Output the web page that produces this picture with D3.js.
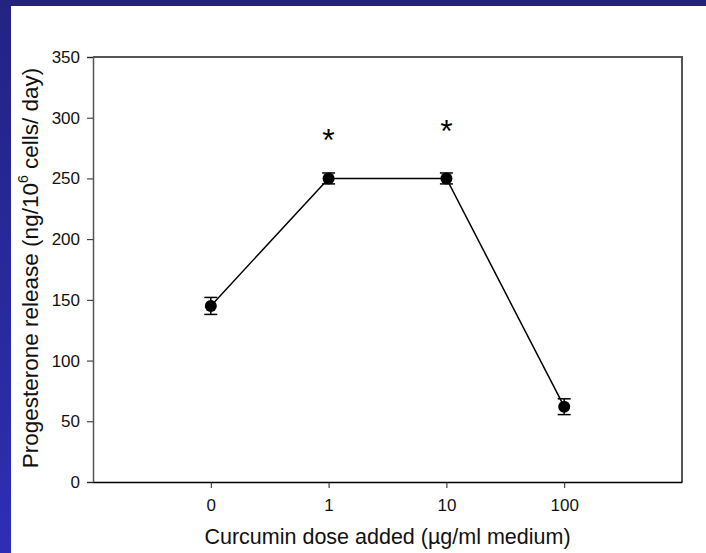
<!DOCTYPE html>
<html>
<head>
<meta charset="utf-8">
<script src="https://d3js.org/d3.v7.min.js"></script>
<style>
  body { margin: 0; background: #fff; }
  svg { display: block; font-family: Arial, "Liberation Sans", sans-serif; }
</style>
</head>
<body>
<div id="chart"></div>
<script>
const doses = ["0", "1", "10", "100"];
const release = [145, 250, 250, 62];
const errors = [7, 4.5, 4.5, 6.5];
const starred = [false, true, true, false];
const yTicks = [0, 50, 100, 150, 200, 250, 300, 350];

const width = 706, height = 553;
const margin = {top: 57, right: 24, bottom: 71, left: 93};

const svg = d3.select("#chart").append("svg")
    .attr("width", width)
    .attr("height", height);

// slide background: blue strips on top and left
const grad = svg.append("defs").append("linearGradient")
    .attr("id", "side").attr("x1", 0).attr("x2", 0).attr("y1", 0).attr("y2", 1);
grad.append("stop").attr("offset", 0).attr("stop-color", "#232382");
grad.append("stop").attr("offset", 1).attr("stop-color", "#2e2eb4");
svg.append("rect").attr("width", width).attr("height", 6).attr("fill", "#23237f");
svg.append("rect").attr("width", 11).attr("height", height).attr("fill", "url(#side)");

const x = d3.scalePoint()
    .domain(doses)
    .range([margin.left, width - margin.right])
    .padding(1);

const y = d3.scaleLinear()
    .domain([0, 350])
    .range([height - margin.bottom, margin.top]);

const data = doses.map((d, i) => ({dose: d, v: release[i], e: errors[i], star: starred[i]}));

// frame top and right
svg.append("path")
    .attr("d", `M${margin.left},${margin.top}H${width - margin.right}V${height - margin.bottom}`)
    .attr("fill", "none").attr("stroke", "#555").attr("stroke-width", 2);

// y axis
svg.append("g")
    .attr("transform", `translate(${margin.left},0)`)
    .call(d3.axisLeft(y).tickValues(yTicks).tickSize(6).tickPadding(7))
    .call(g => g.select(".domain").attr("stroke", "#555").attr("stroke-width", 1.5))
    .call(g => g.selectAll(".tick line").attr("stroke", "#222"))
    .call(g => g.selectAll("text").style("font-size", "17px").attr("fill", "#111"));

// x axis
svg.append("g")
    .attr("transform", `translate(0,${height - margin.bottom})`)
    .call(d3.axisBottom(x).tickSize(6).tickPadding(11).tickSizeOuter(0))
    .call(g => g.select(".domain").attr("stroke", "#000").attr("stroke-width", 1.5))
    .call(g => g.selectAll(".tick line").attr("stroke", "#222"))
    .call(g => g.selectAll("text").style("font-size", "17px").attr("fill", "#111"));

// line
svg.append("path")
    .datum(data)
    .attr("fill", "none")
    .attr("stroke", "#000")
    .attr("stroke-width", 1.5)
    .attr("d", d3.line().x(d => x(d.dose)).y(d => y(d.v)));

// error bars
const eb = svg.append("g").attr("stroke", "#000").attr("stroke-width", 1.5);
data.forEach(d => {
    const cx = x(d.dose);
    eb.append("line").attr("x1", cx).attr("x2", cx).attr("y1", y(d.v + d.e)).attr("y2", y(d.v - d.e));
    eb.append("line").attr("x1", cx - 6.5).attr("x2", cx + 6.5).attr("y1", y(d.v + d.e)).attr("y2", y(d.v + d.e));
    eb.append("line").attr("x1", cx - 6.5).attr("x2", cx + 6.5).attr("y1", y(d.v - d.e)).attr("y2", y(d.v - d.e));
});

// points
svg.selectAll("circle.pt").data(data)
    .join("circle")
    .attr("class", "pt")
    .attr("cx", d => x(d.dose))
    .attr("cy", d => y(d.v))
    .attr("r", 6)
    .attr("fill", "#000");

// asterisks
const starOffset = [0, 48, 57, 0];
svg.selectAll("text.star").data(data.filter(d => d.star))
    .join("text")
    .attr("class", "star")
    .attr("x", d => x(d.dose))
    .attr("y", d => y(d.v) - starOffset[doses.indexOf(d.dose)] + 21)
    .attr("text-anchor", "middle")
    .style("font-size", "32px")
    .text("*");

// axis titles
svg.append("text")
    .attr("x", (margin.left + width - margin.right) / 2)
    .attr("y", 544)
    .attr("text-anchor", "middle")
    .style("font-size", "21.5px")
    .attr("fill", "#111")
    .text("Curcumin dose added (µg/ml medium)");

const yl = svg.append("text")
    .attr("transform", `translate(38,268) rotate(-90)`)
    .attr("text-anchor", "middle")
    .style("font-size", "22.5px")
    .attr("fill", "#111");
yl.append("tspan").text("Progesterone release (ng/10");
yl.append("tspan").style("font-size", "14px").attr("dy", -10).text("6");
yl.append("tspan").attr("dy", 10).text(" cells/ day)");
</script>
</body>
</html>
